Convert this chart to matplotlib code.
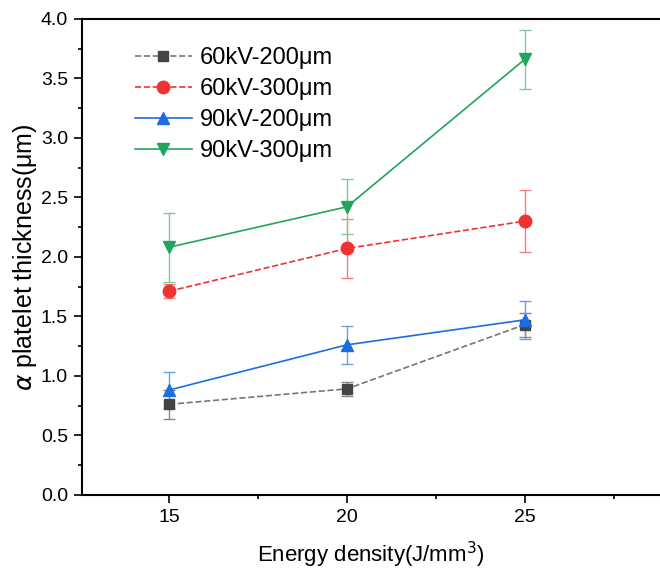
import matplotlib
matplotlib.use("Agg")
import matplotlib.pyplot as plt
from matplotlib.ticker import MultipleLocator

plt.rcParams['font.family'] = ['Liberation Sans', 'DejaVu Sans']

energy = [15, 20, 25]
labels = ["60kV-200μm", "60kV-300μm", "90kV-200μm", "90kV-300μm"]
thick_60_200 = [0.76, 0.89, 1.43]
err_60_200 = [0.12, 0.06, 0.10]
thick_60_300 = [1.71, 2.07, 2.30]
err_60_300 = [0.06, 0.25, 0.26]
thick_90_200 = [0.88, 1.26, 1.47]
err_90_200 = [0.15, 0.16, 0.16]
thick_90_300 = [2.08, 2.42, 3.66]
err_90_300 = [0.29, 0.23, 0.25]

fig = plt.figure(figsize=(6.6, 5.7), dpi=100)
ax = fig.add_axes([0.124, 0.132, 0.876, 0.835])

series = [
    (thick_60_200, err_60_200, "#444444", "#888888", "s", "--", 7),
    (thick_60_300, err_60_300, "#f03232", "#f08080", "o", "--", 9),
    (thick_90_200, err_90_200, "#1c6ee0", "#6f9fe0", "^", "-", 9),
    (thick_90_300, err_90_300, "#22a45e", "#80c8a0", "v", "-", 9),
]

for (y, e, c, ec, m, ls, ms), lab in zip(series, labels):
    ax.errorbar(energy, y, yerr=e, fmt="none", ecolor=ec, elinewidth=1.0,
                capsize=4, capthick=1.0, zorder=2)
    line_c = c if c != "#444444" else "#777777"
    ax.plot(energy, y, linestyle=ls, color=line_c, linewidth=1.2, zorder=3,
            marker=m, markersize=ms, markerfacecolor=c, markeredgecolor=c,
            label=lab)

ax.set_xlim(12.55, 28.8)
ax.set_ylim(0, 4.0)
ax.set_xticks(energy)
ax.xaxis.set_minor_locator(MultipleLocator(2.5))
ax.yaxis.set_major_locator(MultipleLocator(0.5))
ax.yaxis.set_minor_locator(MultipleLocator(0.25))
ax.tick_params(which="major", direction="out", length=6, width=1.2,
               labelsize=14, pad=4)
ax.tick_params(which="minor", direction="out", length=3, width=1.2)
for s in ["left", "bottom", "top"]:
    ax.spines[s].set_linewidth(1.5)
ax.spines["right"].set_visible(False)

ax.set_xlabel("Energy density(J/mm$^3$)", fontsize=16, labelpad=10)
ax.set_ylabel(r"$\alpha$ platelet thickness(μm)", fontsize=18, labelpad=1)

ax.legend(loc="upper left", bbox_to_anchor=(0.055, 0.985), frameon=False,
          fontsize=17, handlelength=2.4, handletextpad=0.35, labelspacing=0.38)

fig.savefig("out.png", dpi=100)
